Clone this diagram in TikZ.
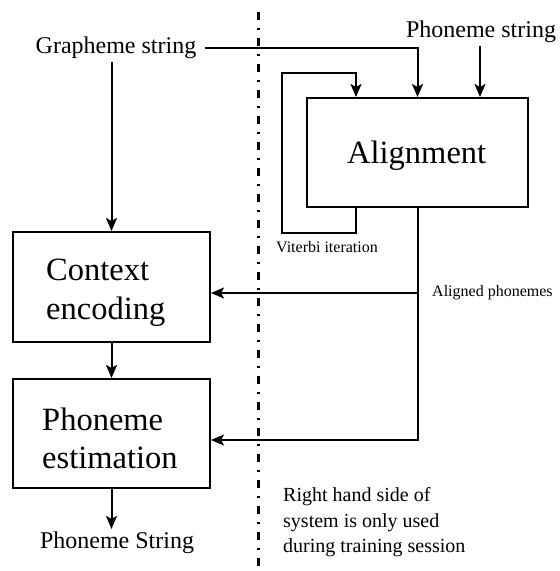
\documentclass[tikz,border=0pt]{standalone}
\usepackage{fontspec}
\setmainfont{Liberation Serif}
\usetikzlibrary{arrows.meta}
\begin{document}
\begin{tikzpicture}[x=1pt,y=-1pt,
  every node/.style={inner sep=0pt},
  block/.style={draw,line width=2pt},
  blocktext/.style={font=\fontsize{32.5}{39}\selectfont,anchor=base west},
  label24/.style={font=\fontsize{24}{28}\selectfont,inner xsep=8pt,inner ysep=3pt},
  small/.style={font=\fontsize{16}{19}\selectfont},
  note/.style={font=\fontsize{20}{24}\selectfont,anchor=base west},
  flow/.style={line width=2pt,-{Stealth[length=13pt,width=11pt,inset=3pt]}}]
\useasboundingbox (0,0) rectangle (560,571);

% boundary between the run-time part and the training-only part
\draw[line width=3pt,dash pattern=on 8pt off 8pt on 2pt off 8pt] (258,12) -- (258,571);

% blocks
\node[block,minimum width=221pt,minimum height=109pt] (align) at (417.5,152.5) {};
\node[block,minimum width=197pt,minimum height=110pt] (ctx) at (111.5,287) {};
\node[block,minimum width=197pt,minimum height=109pt] (est) at (111.5,433.5) {};

% block titles
\node[blocktext] (alignt) at (347,163) {Alignment};
\node[blocktext] (ctxa) at (46,280) {Context};
\node[blocktext] (ctxb) at (46,319) {encoding};
\node[blocktext] (esta) at (42,430) {Phoneme};
\node[blocktext] (estb) at (42,468) {estimation};

% inputs and output
\node[label24] (gs) at (116,48) {Grapheme string};
\node[label24] (ps) at (481,32) {Phoneme string};
\node[label24] (out) at (117,543) {Phoneme String};

% labels
\node[small] (vit) at (327,247) {Viterbi iteration};
\node[small,anchor=west] (alp) at (432,293) {Aligned phonemes};
\node[note] (n1) at (283,501) {Right hand side of};
\node[note] (n2) at (283,527) {system is only used};
\node[note] (n3) at (283,552) {during training session};

% connectors
\draw[flow] (gs.east) -| (align.north);
\draw[flow] (gs.south -| ctx.north) -- (ctx.north);
\draw[flow] (ps.south -| 480,0) -- (align.north -| 480,0);
\draw[flow] ([xshift=50pt]align.south west) -- ++(0,25) -| (282,73)
            -| ([xshift=50pt]align.north west);
\draw[flow] (align.south) -- (align.south |- 0,440) -- (est.east |- 0,440);
\draw[flow] (align.south |- 0,293) -- (ctx.east |- 0,293);
\draw[flow] (ctx.south) -- (est.north);
\draw[flow] (est.south) -- (est.south |- out.north);
\end{tikzpicture}
\end{document}
